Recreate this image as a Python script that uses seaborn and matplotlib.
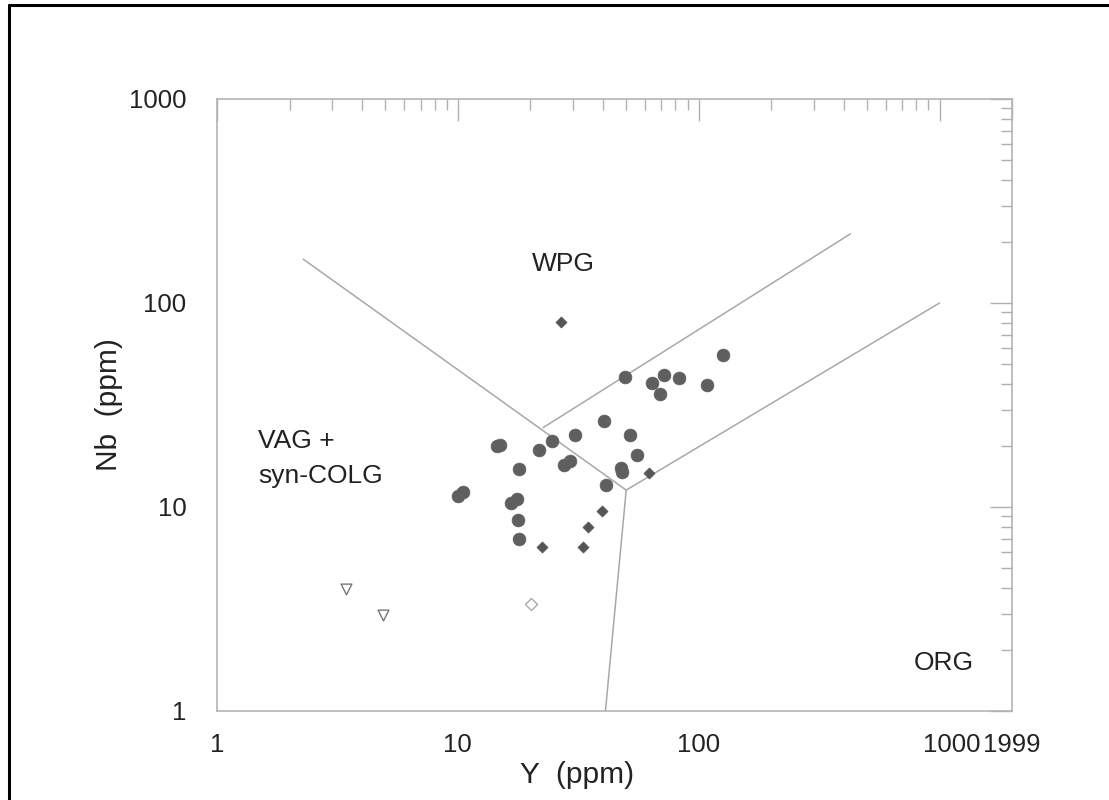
import numpy as np
import pandas as pd
import seaborn as sns
import matplotlib.pyplot as plt
from matplotlib.lines import Line2D
from matplotlib.transforms import ScaledTranslation

# filled circles
circ_y = [49.3, 63.7, 71.9, 83.1, 69.0, 108.3, 125.9, 40.4, 30.7, 52.1, 55.3, 24.7, 21.7,
          14.5, 15.0, 27.6, 29.1, 47.8, 48.2, 18.0, 41.4, 9.97, 10.5, 16.6, 17.6, 17.8, 18.0]
circ_nb = [43.2, 40.4, 44.2, 43.0, 35.7, 39.5, 55.6, 26.4, 22.5, 22.6, 18.0, 21.1, 19.1,
           19.8, 20.1, 16.1, 16.9, 15.6, 14.9, 15.4, 12.8, 11.3, 11.9, 10.5, 11.0, 8.67, 7.0]

# filled diamonds
dia_y = [26.9, 61.9, 39.5, 34.7, 22.4, 33.0]
dia_nb = [81.0, 14.7, 9.56, 7.95, 6.35, 6.35]

# open triangles
tri_y = [3.44, 4.90]
tri_nb = [3.95, 2.94]

# open diamond
odia_y = [20.1]
odia_nb = [3.33]

# field boundaries
b1_y, b1_nb = [2.28, 50], [164, 12.1]
b2_y, b2_nb = [50, 41], [12.1, 1]
b3_y, b3_nb = [50, 1000], [12.1, 100]
b4_y, b4_nb = [22.6, 426], [24.5, 218]

x_ticks = [1, 10, 100, 1000, 1999]
y_ticks = [1, 10, 100, 1000]

sns.set_style("white")
plt.rcParams['font.family'] = ['Liberation Sans', 'DejaVu Sans']

fig = plt.figure(figsize=(11.09, 8.0), dpi=100)
ax = fig.add_axes([0.1957, 0.11125, 0.9125 - 0.1957, 0.87625 - 0.11125])

line_col = '#a8a8a8'
for bx, by in [(b1_y, b1_nb), (b2_y, b2_nb), (b3_y, b3_nb), (b4_y, b4_nb)]:
    ax.plot(bx, by, color=line_col, lw=1.1)

sns.scatterplot(x=circ_y, y=circ_nb, marker='o', s=85, color='#5f5f5f', edgecolor='#5f5f5f',
                linewidth=0.5, ax=ax, zorder=3)
sns.scatterplot(x=dia_y, y=dia_nb, marker='D', s=32, color='#555555', edgecolor='#555555',
                linewidth=0.5, ax=ax, zorder=3)
sns.scatterplot(x=tri_y, y=tri_nb, marker='v', s=60, facecolor='white', edgecolor='#777777',
                linewidth=1.0, ax=ax, zorder=3)
sns.scatterplot(x=odia_y, y=odia_nb, marker='D', s=38, facecolor='white', edgecolor='#aaaaaa',
                linewidth=1.0, ax=ax, zorder=3)

ax.set_xscale('log')
ax.set_yscale('log')
ax.set_xlim(1, 1999)
ax.set_ylim(1, 1000)
ax.set_xticks(x_ticks)
ax.set_xticklabels([str(t) for t in x_ticks])
ax.set_yticks(y_ticks)
ax.set_yticklabels([str(t) for t in y_ticks])

txt = '#222222'
for s in ax.spines.values():
    s.set_color('#b4b4b4')
    s.set_linewidth(1.2)
ax.tick_params(which='both', direction='in', top=True, right=True, color='#b0b0b0',
               width=1.0, labelsize=18.5, labelcolor=txt)
ax.tick_params(which='major', length=16)
ax.tick_params(which='minor', length=8)
ax.tick_params(axis='x', pad=16)
ax.tick_params(axis='y', pad=22)

# the 1000 label sits close to 1999 in the original
lab = ax.get_xticklabels()[3]
lab.set_transform(lab.get_transform() + ScaledTranslation(0.12, 0, fig.dpi_scale_trans))

ax.set_xlabel('Y  (ppm)', fontsize=21.5, color=txt)
ax.set_ylabel('Nb  (ppm)', fontsize=21.5, color=txt, labelpad=4)
# x label is centred on the 1-1000 span, not the full axis
ax.xaxis.set_label_coords(0.453, -0.082)

ax.text(27.4, 155, 'WPG', fontsize=19, color=txt, ha='center', va='center')
ax.text(1.48, 21.1, 'VAG +', fontsize=19, color=txt, ha='left', va='center')
ax.text(1.48, 14.2, 'syn-COLG', fontsize=19, color=txt, ha='left', va='center')
ax.text(1040, 1.72, 'ORG', fontsize=19, color=txt, ha='center', va='center')

# screenshot border (top and left)
fig.add_artist(Line2D([9 / 1109, 1], [1 - 5 / 800, 1 - 5 / 800], color='black', lw=2.2))
fig.add_artist(Line2D([9 / 1109, 9 / 1109], [0, 1 - 5 / 800], color='black', lw=2.2))

fig.savefig('out.png', dpi=100, facecolor='white')
